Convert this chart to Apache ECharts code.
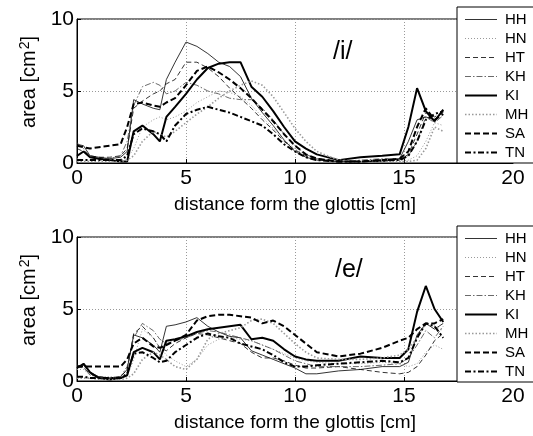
<!DOCTYPE html>
<html lang="en">
<head>
    <meta charset="UTF-8">
    <title>Vocal tract area functions</title>
    <script src="https://cdn.jsdelivr.net/npm/echarts@6/dist/echarts.min.js"></script>
    <style>
        html, body { margin: 0; padding: 0; background: #fff; }
    </style>
</head>
<body>
    <div id="myChart" style="width: 533px; height: 436px;"></div>
    <script>
        // distance from the glottis [cm], shared sample points
        const dist = [0, 0.3, 0.6, 1, 1.5, 2, 2.3, 2.6, 3, 3.5, 3.8, 4.1, 4.5, 5, 5.5, 6, 6.5, 7, 7.5, 8,
            8.5, 9, 9.5, 10, 10.5, 11, 12, 13, 14, 14.8, 15.2, 15.6, 16, 16.4, 16.8];
        const speakers = ['HH', 'HN', 'HT', 'KH', 'KI', 'MH', 'SA', 'TN'];
        const xTicks = [0, 5, 10, 15, 20];
        const yTicks = [0, 5, 10];

        // area [cm2] for /i/
        const iHH = [1.3, 1.2, 0.5, 0.4, 0.3, 0.4, 0.8, 4.4, 4.1, 3.8, 3.7, 5.8, 7.0, 8.4, 8.1, 7.6, 7.0, 6.7, 6.0, 4.5, 3.5, 2.6, 1.6, 0.8, 0.4, 0.2, 0.1, 0.1, 0.1, 0.3, 1.5, 3.0, 3.2, 3.0, 3.6];
        const iHN = [0.3, 0.2, 0.2, 0.2, 0.2, 0.2, 0.3, 1.0, 2.5, 3.0, 3.2, 3.0, 3.2, 3.6, 4.2, 4.6, 5.0, 4.9, 4.6, 4.0, 3.2, 2.4, 1.6, 1.0, 0.5, 0.3, 0.1, 0.1, 0.1, 0.1, 0.2, 0.5, 1.5, 2.8, 2.6];
        const iHT = [1.0, 0.8, 0.5, 0.4, 0.4, 0.5, 1.0, 3.8, 4.3, 4.8, 5.0, 5.5, 5.8, 7.0, 7.0, 6.6, 6.0, 5.2, 4.5, 3.8, 3.0, 2.3, 1.5, 0.9, 0.5, 0.3, 0.1, 0.1, 0.1, 0.2, 0.6, 2.0, 3.5, 3.2, 3.5];
        const iKH = [1.4, 1.0, 0.4, 0.3, 0.3, 0.5, 1.5, 4.0, 5.3, 5.6, 5.4, 4.8, 5.0, 5.6, 5.4, 5.0, 4.8, 4.5, 4.4, 4.4, 3.8, 3.0, 2.0, 1.2, 0.6, 0.3, 0.1, 0.2, 0.3, 0.3, 0.5, 1.5, 3.2, 2.8, 3.3];
        const iKI = [0.5, 0.8, 0.4, 0.3, 0.2, 0.1, 0.1, 2.2, 2.6, 2.0, 1.5, 3.2, 3.9, 4.8, 5.8, 6.6, 6.9, 7.0, 7.0, 5.3, 4.6, 3.6, 2.5, 1.5, 1.0, 0.6, 0.2, 0.4, 0.5, 0.6, 2.5, 5.2, 3.6, 2.9, 3.7];
        const iMH = [0.1, 0.1, 0.1, 0.1, 0.1, 0.1, 0.2, 0.5, 1.5, 2.2, 2.0, 1.8, 2.2, 2.8, 3.4, 3.9, 4.5, 5.0, 5.4, 5.7, 5.4, 4.6, 3.5, 2.4, 1.5, 0.8, 0.2, 0.1, 0.1, 0.1, 0.1, 0.2, 1.0, 2.5, 2.2];
        const iSA = [1.2, 1.1, 1.0, 1.1, 1.2, 1.3, 2.5, 4.1, 4.2, 4.0, 3.9, 4.2, 4.5, 5.4, 6.4, 6.7, 6.3, 5.8, 5.2, 4.5, 3.7, 2.9, 2.0, 1.2, 0.6, 0.3, 0.1, 0.1, 0.2, 0.3, 0.8, 2.5, 3.8, 3.0, 3.4];
        const iTN = [0.2, 0.2, 0.2, 0.2, 0.2, 0.2, 0.5, 2.0, 2.4, 2.2, 2.0, 1.5, 2.6, 3.4, 3.7, 3.9, 3.7, 3.5, 3.2, 2.9, 2.6, 2.0, 1.3, 0.8, 0.4, 0.2, 0.1, 0.1, 0.2, 0.2, 0.5, 1.5, 3.0, 3.4, 3.6];

        // area [cm2] for /e/
        const eHH = [1.0, 1.1, 0.6, 0.3, 0.2, 0.3, 0.8, 3.2, 3.0, 2.5, 2.0, 3.8, 3.9, 4.1, 4.4, 3.8, 3.4, 3.1, 3.0, 2.1, 1.8, 1.5, 1.2, 0.9, 0.5, 0.5, 0.7, 0.8, 1.0, 1.0, 1.3, 3.2, 4.0, 3.6, 4.0];
        const eHN = [0.8, 0.8, 0.4, 0.3, 0.3, 0.3, 0.3, 1.5, 3.6, 3.0, 2.3, 1.8, 1.4, 1.0, 1.5, 2.5, 2.9, 3.0, 2.9, 2.8, 2.5, 2.2, 1.9, 1.6, 1.4, 1.3, 1.2, 1.2, 1.3, 1.2, 1.0, 1.2, 2.0, 2.5, 2.2];
        const eHT = [1.0, 0.9, 0.5, 0.3, 0.2, 0.3, 0.8, 3.3, 3.8, 3.0, 2.3, 2.1, 2.6, 3.0, 3.3, 3.2, 3.0, 2.8, 2.6, 2.0, 1.6, 1.6, 1.4, 1.1, 0.9, 0.9, 1.0, 0.8, 0.6, 0.5, 0.6, 1.0, 1.8, 2.8, 3.3];
        const eKH = [1.1, 1.0, 0.4, 0.3, 0.2, 0.3, 1.0, 3.0, 4.0, 3.5, 2.9, 2.6, 2.8, 3.0, 3.3, 3.5, 3.4, 3.2, 3.0, 2.8, 2.5, 2.2, 1.8, 1.4, 1.2, 1.0, 1.0, 1.0, 1.1, 1.2, 1.6, 2.5, 3.5, 3.0, 3.8];
        const eKI = [0.9, 1.2, 0.6, 0.2, 0.1, 0.2, 0.4, 2.0, 2.3, 2.0, 1.5, 2.8, 2.9, 3.1, 3.4, 3.6, 3.7, 3.8, 3.9, 2.9, 3.0, 2.8, 2.2, 1.7, 1.5, 1.4, 1.4, 1.7, 1.6, 1.6, 2.2, 4.8, 6.6, 5.0, 4.1];
        const eMH = [0.2, 0.2, 0.2, 0.1, 0.1, 0.1, 0.2, 0.5, 1.5, 2.0, 1.8, 1.5, 1.0, 0.8, 1.5, 2.9, 3.3, 3.5, 3.7, 4.2, 4.3, 4.0, 3.3, 2.6, 2.0, 1.6, 1.5, 1.5, 1.6, 1.8, 2.2, 3.0, 4.0, 3.8, 3.5];
        const eSA = [1.0, 1.0, 1.0, 1.0, 1.0, 1.0, 1.5, 2.6, 3.0, 2.4, 2.3, 2.5, 2.8, 3.2, 4.2, 4.5, 4.6, 4.6, 4.5, 4.4, 4.0, 4.2, 3.8, 3.2, 2.6, 2.0, 1.7, 1.9, 2.3, 2.8, 3.0, 3.6, 4.0, 4.0, 4.3];
        const eTN = [0.3, 0.3, 0.2, 0.2, 0.2, 0.2, 0.5, 1.9, 2.0, 1.6, 1.3, 1.4, 2.0, 2.5, 3.0, 3.3, 3.1, 3.0, 2.6, 2.4, 2.2, 1.8, 1.3, 1.0, 1.0, 1.1, 1.2, 1.3, 1.4, 1.3, 1.6, 3.0, 4.0, 3.8, 3.0];

        const vowelI = [iHH, iHN, iHT, iKH, iKI, iMH, iSA, iTN];
        const vowelE = [eHH, eHN, eHT, eKH, eKI, eMH, eSA, eTN];

        // line look per speaker
        const looks = [
            { color: '#000', width: 0.8, type: 'solid' },
            { color: '#999', width: 1, type: [1, 2] },
            { color: '#000', width: 0.8, type: [5, 3] },
            { color: '#444', width: 0.8, type: [6, 2, 1.5, 2] },
            { color: '#000', width: 2, type: 'solid' },
            { color: '#999', width: 1.6, type: [1.5, 2] },
            { color: '#000', width: 2, type: [6, 3] },
            { color: '#000', width: 2, type: [6, 2.5, 2, 2.5] }
        ];

        const font = 'Liberation Sans, Arial, Helvetica, sans-serif';
        const myChart = echarts.init(document.getElementById('myChart'));

        const grids = [
            { left: 77, top: 19, width: 436, height: 144 },
            { left: 77, top: 237, width: 436, height: 144 }
        ];

        function xAxisFor(idx) {
            return {
                type: 'value', gridIndex: idx,
                min: xTicks[0], max: xTicks[xTicks.length - 1], interval: 5,
                name: 'distance form the glottis [cm]',
                nameLocation: 'middle', nameGap: 32,
                nameTextStyle: { color: '#000', fontSize: 19, fontFamily: font },
                axisLine: { lineStyle: { color: '#000', width: 1 } },
                axisTick: { inside: true, length: 4, lineStyle: { color: '#000' } },
                axisLabel: { color: '#000', fontSize: 21, fontFamily: font, margin: 5 },
                splitLine: { show: true, lineStyle: { color: '#999', type: [1, 2], width: 1 } }
            };
        }

        function yAxisFor(idx) {
            return {
                type: 'value', gridIndex: idx,
                min: yTicks[0], max: yTicks[yTicks.length - 1], interval: 5,
                name: '{a|area [cm}{s|2}{a|]}',
                nameLocation: 'middle', nameGap: 27,
                nameTextStyle: {
                    color: '#000', fontFamily: font,
                    padding: [0, 0, 0, 18],
                    rich: {
                        a: { fontSize: 20, fontFamily: font, color: '#000' },
                        s: { fontSize: 14, fontFamily: font, color: '#000', verticalAlign: 'top', padding: [0, 0, 9, 1] }
                    }
                },
                axisLine: { lineStyle: { color: '#000', width: 1 } },
                axisTick: { inside: true, length: 4, lineStyle: { color: '#000' } },
                axisLabel: { color: '#000', fontSize: 21, fontFamily: font, margin: 3 },
                splitLine: { show: true, lineStyle: { color: '#999', type: [1, 2], width: 1 } }
            };
        }

        const seriesList = [];
        [vowelI, vowelE].forEach((set, g) => {
            set.forEach((vals, k) => {
                seriesList.push({
                    type: 'line',
                    name: speakers[k],
                    xAxisIndex: g,
                    yAxisIndex: g,
                    symbol: 'none',
                    silent: true,
                    animation: false,
                    data: dist.map((d, j) => [d, vals[j]]),
                    lineStyle: { color: looks[k].color, width: looks[k].width, type: looks[k].type },
                    itemStyle: { color: looks[k].color }
                });
            });
        });

        function legendFor(top) {
            return {
                orient: 'vertical',
                left: 457, top: top,
                data: speakers.map((s, k) => ({ name: s, lineStyle: { width: looks[k].width } })),
                itemWidth: 32, itemHeight: 14, itemGap: 4,
                padding: [5, 40, 3, 7],
                backgroundColor: '#fff',
                borderColor: '#000', borderWidth: 1, borderRadius: 0,
                selectedMode: false,
                // only the line sample, no marker on it
                itemStyle: { color: 'transparent', borderColor: 'transparent', borderWidth: 0, opacity: 0 },
                textStyle: { color: '#000', fontSize: 15, fontFamily: font, padding: [0, 0, 0, 3] }
            };
        }

        const option = {
            animation: false,
            backgroundColor: '#fff',
            grid: grids.map(g => Object.assign({ show: true, borderColor: '#000', borderWidth: 1, backgroundColor: 'transparent' }, g)),
            xAxis: [xAxisFor(0), xAxisFor(1)],
            yAxis: [yAxisFor(0), yAxisFor(1)],
            legend: [legendFor(7), legendFor(226)],
            graphic: [
                { type: 'text', left: 333, top: 40, style: { text: '/i/', fontSize: 25, fontFamily: font, fill: '#000' } },
                { type: 'text', left: 335, top: 258, style: { text: '/e/', fontSize: 25, fontFamily: font, fill: '#000' } }
            ],
            series: seriesList
        };
        myChart.setOption(option);
    </script>
</body>
</html>
